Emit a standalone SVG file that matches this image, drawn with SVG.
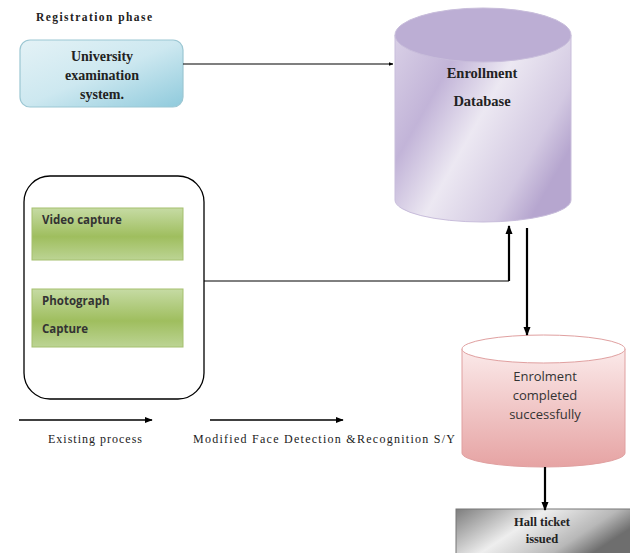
<svg xmlns="http://www.w3.org/2000/svg" width="630" height="553" viewBox="0 0 630 553">
<defs>
<linearGradient id="gBlue" x1="0" y1="0" x2="1" y2="1"><stop offset="0" stop-color="#e4f2f6"/><stop offset="0.5" stop-color="#cde8f0"/><stop offset="1" stop-color="#8fcadc"/></linearGradient>
<linearGradient id="gPurple" x1="0" y1="0" x2="1" y2="0.6"><stop offset="0" stop-color="#d9d0e6"/><stop offset="0.3" stop-color="#c2b4d8"/><stop offset="0.55" stop-color="#ece8f2"/><stop offset="0.85" stop-color="#d3c9e2"/><stop offset="1" stop-color="#b6a6cf"/></linearGradient>
<linearGradient id="gGreen" x1="0" y1="0" x2="0" y2="1"><stop offset="0" stop-color="#c6dba4"/><stop offset="0.55" stop-color="#9fbe5e"/><stop offset="1" stop-color="#bcd494"/></linearGradient>
<linearGradient id="gPink" x1="0" y1="0" x2="0" y2="1"><stop offset="0" stop-color="#fbeaea"/><stop offset="1" stop-color="#e6a3a3"/></linearGradient>
<linearGradient id="gGray" x1="0" y1="0" x2="1" y2="0.4"><stop offset="0" stop-color="#7d7d7d"/><stop offset="0.45" stop-color="#eeeeee"/><stop offset="0.8" stop-color="#b8b8b8"/><stop offset="1" stop-color="#6e6e6e"/></linearGradient>
<marker id="ah" viewBox="0 0 10 10" refX="9" refY="5" markerWidth="4" markerHeight="4" orient="auto"><path d="M0,1 L10,5 L0,9 z" fill="#000"/></marker>
<marker id="ahs" viewBox="0 0 10 10" refX="9" refY="5" markerWidth="6" markerHeight="6" orient="auto"><path d="M0,1 L10,5 L0,9 z" fill="#000"/></marker>
</defs>
<style>
.serif{font-family:"Liberation Serif","Times New Roman",serif;fill:#222}
.b{font-weight:bold}
.sans{font-family:"Open Sans","Liberation Sans",sans-serif;fill:#333}
.ln{stroke:#000;fill:none}
</style>
<text class="serif b" x="36" y="21" font-size="11.5" textLength="116" lengthAdjust="spacing">Registration phase</text>
<g id="university">
<rect x="20" y="40" width="163" height="67" rx="10" fill="url(#gBlue)" stroke="#9cc7d3" stroke-width="1.2"/>
<text class="serif b" font-size="14" text-anchor="middle"><tspan x="102" y="61">University</tspan><tspan x="102" y="80">examination</tspan><tspan x="102" y="99">system.</tspan></text>
</g>
<g id="enrollmentdb">
<path d="M395,35 L395,200 A88,22 0 0 0 571,200 L571,35 Z" fill="url(#gPurple)" stroke="#c8bddb" stroke-width="1"/>
<ellipse cx="483" cy="35" rx="88" ry="27" fill="#bcaed4" stroke="#c8bddb" stroke-width="1"/>
<text class="serif b" font-size="14.5" text-anchor="middle"><tspan x="482" y="78">Enrollment</tspan><tspan x="482" y="106">Database</tspan></text>
</g>
<g id="capture">
<rect x="24" y="176" width="180" height="223" rx="26" fill="#fff" stroke="#000" stroke-width="1.3"/>
<g id="video">
<rect x="32" y="208" width="151" height="52" fill="url(#gGreen)" stroke="#a5c06e" stroke-width="1"/>
<text class="sans b" x="42" y="224" font-size="11.5" fill="#1a1a1a">Video capture</text>
</g>
<g id="photo">
<rect x="32" y="289" width="151" height="58" fill="url(#gGreen)" stroke="#a5c06e" stroke-width="1"/>
<text class="sans b" font-size="11.5" fill="#1a1a1a"><tspan x="42" y="305">Photograph</tspan><tspan x="42" y="333">Capture</tspan></text>
</g>
</g>
<g id="completed">
<path d="M462,349 L462,453 A81.5,14 0 0 0 625,453 L625,349 Z" fill="url(#gPink)" stroke="#e0a0a0" stroke-width="1"/>
<ellipse cx="543.5" cy="349" rx="81.5" ry="14" fill="#fff" stroke="#e0a0a0" stroke-width="1"/>
<text class="sans" font-size="13" text-anchor="middle"><tspan x="545" y="381">Enrolment</tspan><tspan x="545" y="400">completed</tspan><tspan x="545" y="419">successfully</tspan></text>
</g>
<g id="hallticket">
<rect x="456" y="509" width="176" height="46" fill="url(#gGray)" stroke="#777" stroke-width="1"/>
<text class="serif b" font-size="12.5" text-anchor="middle" fill="#111"><tspan x="542" y="526">Hall ticket</tspan><tspan x="542" y="543">issued</tspan></text>
</g>
<g id="connectors">
<line class="ln" x1="183" y1="64" x2="393" y2="64" stroke-width="1.2" marker-end="url(#ah)"/>
<polyline class="ln" points="204,281 509,281" stroke-width="1"/>
<line class="ln" x1="509" y1="281" x2="509" y2="226" stroke-width="2.2" marker-end="url(#ah)"/>
<line class="ln" x1="527" y1="228" x2="527" y2="335" stroke-width="2.2" marker-end="url(#ah)"/>
<line class="ln" x1="545" y1="467" x2="545" y2="510" stroke-width="2.2" marker-end="url(#ah)"/>
<line class="ln" x1="19" y1="420" x2="152" y2="420" stroke-width="1.3" marker-end="url(#ahs)"/>
<line class="ln" x1="210" y1="420" x2="343" y2="420" stroke-width="1.3" marker-end="url(#ahs)"/>
</g>
<text class="serif" x="48" y="443" font-size="12" textLength="94" lengthAdjust="spacing">Existing process</text>
<text class="serif" x="193" y="443" font-size="12" textLength="262" lengthAdjust="spacing">Modified Face Detection &amp;Recognition  S/Y</text>
</svg>
